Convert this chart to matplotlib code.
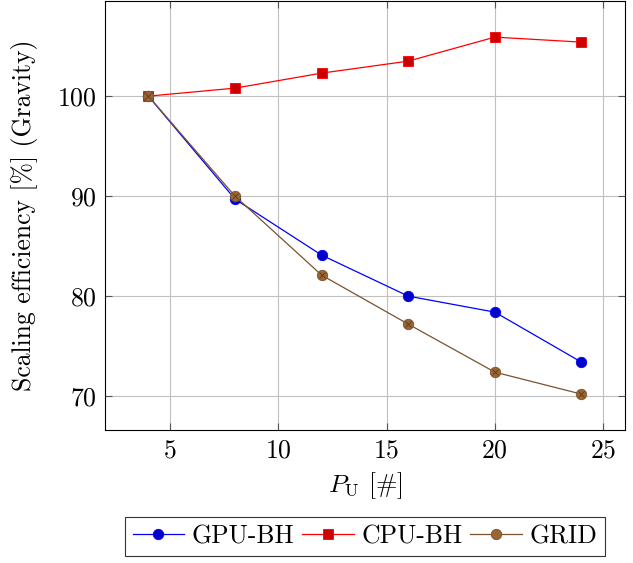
import matplotlib
matplotlib.use("Agg")
import matplotlib.pyplot as plt

# Data
procs = [4, 8, 12, 16, 20, 24]
gpu_bh = [100.0, 89.7, 84.1, 80.0, 78.4, 73.4]
cpu_bh = [100.0, 100.8, 102.3, 103.5, 105.9, 105.4]
grid = [100.0, 90.0, 82.1, 77.2, 72.4, 70.2]

x_ticks = [5, 10, 15, 20, 25]
y_ticks = [70, 80, 90, 100]

FS = 18.5

plt.rcParams['font.family'] = ['cmr10', 'DejaVu Serif']
plt.rcParams['mathtext.fontset'] = 'cm'
plt.rcParams['axes.formatter.use_mathtext'] = True
plt.rcParams['font.size'] = FS

fig = plt.figure(figsize=(6.33, 5.63), dpi=100)
ax = fig.add_axes([0.166, 0.236, 0.821, 0.762])

ax.plot(procs, gpu_bh, color='#0000ff', lw=0.9, marker='o', ms=7.5,
        mfc='#0000cc', mec='#0000ff', mew=0.6, label='GPU-BH', zorder=3)
ax.plot(procs, cpu_bh, color='#ff0000', lw=0.9, marker='s', ms=7.5,
        mfc='#cc0000', mec='#ff0000', mew=0.6, label='CPU-BH', zorder=3)
ax.plot(procs, grid, color='#7a5230', lw=0.9, marker='o', ms=7.5,
        mfc='#996633', mec='#7a5230', mew=0.6, label='GRID', zorder=4)
# cross inside the circles
ax.plot(procs, grid, ls='none', marker='x', ms=5, mec='#5a3a1a', mew=0.6,
        zorder=5)

ax.set_xlim(2, 26)
ax.set_ylim(66.6, 109.5)
ax.set_xticks(x_ticks)
ax.set_yticks(y_ticks)
ax.grid(True, color='#c0c0c0', lw=0.8)
ax.set_axisbelow(True)
ax.tick_params(direction='in', top=True, right=True, length=5, width=0.8,
               color='#555555', labelsize=FS, pad=6)
for s in ax.spines.values():
    s.set_linewidth(0.8)

ax.set_xlabel(r'$P_{\mathrm{U}}$ [#]', fontsize=FS, labelpad=6)
ax.set_ylabel('Scaling efficiency [%] (Gravity)', fontsize=FS, labelpad=14)

leg = ax.legend(loc='center', bbox_to_anchor=(0.5, -0.248), ncol=3,
                frameon=True, fancybox=False, edgecolor='black',
                handlelength=2.0, columnspacing=0.3, handletextpad=0.3,
                borderpad=0.3, fontsize=FS)
leg.get_frame().set_linewidth(0.8)

fig.savefig('out.png', dpi=100)
